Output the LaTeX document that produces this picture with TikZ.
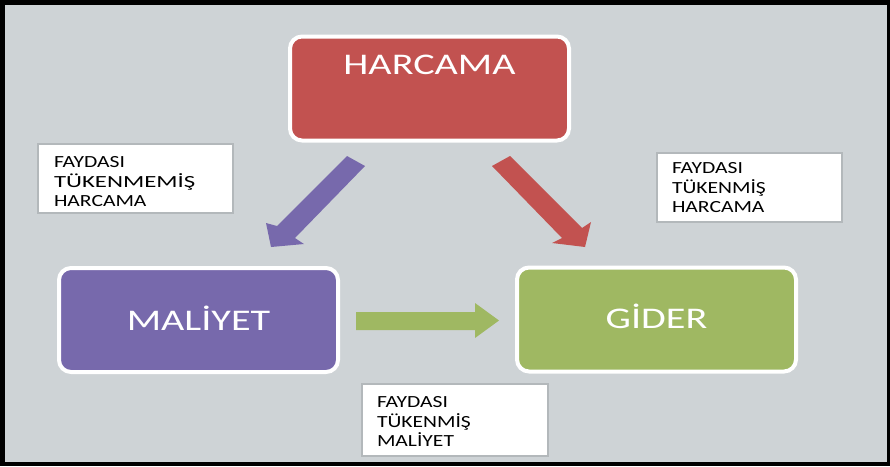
\documentclass[tikz,border=0pt]{standalone}
\usepackage{graphicx}
\usepackage{fontspec}
\newfontfamily\boxfnt[FakeStretch=1.34]{Carlito}
\newfontfamily\lblfnt[FakeStretch=1.27]{Carlito}
\definecolor{bggray}{HTML}{CED3D6}
\definecolor{boxred}{HTML}{C25250}
\definecolor{boxpurple}{HTML}{7769AC}
\definecolor{boxgreen}{HTML}{9FB862}
\definecolor{lblgray}{HTML}{B3B8BB}
\begin{document}
\begin{tikzpicture}[x=1pt,y=-1pt,
  mainbox/.style={rounded corners=12pt, draw=white, line width=4pt,
    minimum width=279pt, minimum height=104pt, text=white,
    font=\boxfnt\fontsize{30}{36}\selectfont, inner sep=0pt},
  lblbox/.style={draw=lblgray, line width=2pt, fill=white, align=left,
    font=\lblfnt\fontsize{17}{19.7}\selectfont, inner ysep=0pt,
    minimum height=69pt, text height=12pt}
]
\useasboundingbox (0,0) rectangle (890,466);
\fill[black] (0,0) rectangle (890,466);
\fill[bggray] (5,5) rectangle (887,462);

% main boxes
\node[mainbox, fill=boxred, text height=20pt, text depth=49pt] (harcama) at (429.5,88.5) {HARCAMA};
\node[mainbox, fill=boxpurple, text height=20pt, text depth=0pt] (maliyet) at (198.5,320) {MAL\.IYET};
\node[mainbox, fill=boxgreen, text height=20pt, text depth=3pt] (gider) at (656.5,319.5) {G\.IDER};

% label boxes
\node[lblbox, inner xsep=16pt, text width=163pt, minimum width=195pt, text depth=34.4pt] (lblA) at (135.5,178.5) {FAYDASI\\\scalebox{1.15}[1]{TÜKENMEMİŞ}\\HARCAMA};
\node[lblbox, inner xsep=15pt, text width=155pt, minimum width=185pt, text depth=40.4pt] (lblB) at (749.5,187.5) {FAYDASI\\TÜKENMİŞ\\HARCAMA};
\node[lblbox, inner xsep=15pt, text width=156pt, minimum width=186pt, minimum height=72pt, text depth=37.4pt] (lblC) at (455,420) {FAYDASI\\TÜKENMİŞ\\MALİYET};

% block arrows
\fill[boxpurple] (347,156) -- (277,226) -- (266,223) -- (271,247) -- (304,244) -- (295,238) -- (365,166) -- cycle;
\fill[boxred] (510,156) -- (582,228) -- (591,222) -- (585,247) -- (552,243) -- (562,238) -- (492,166) -- cycle;
\fill[boxgreen] (356,312) -- (475,312) -- (475,303) -- (499,320.5) -- (475,338) -- (475,330) -- (356,330) -- cycle;
\end{tikzpicture}
\end{document}
